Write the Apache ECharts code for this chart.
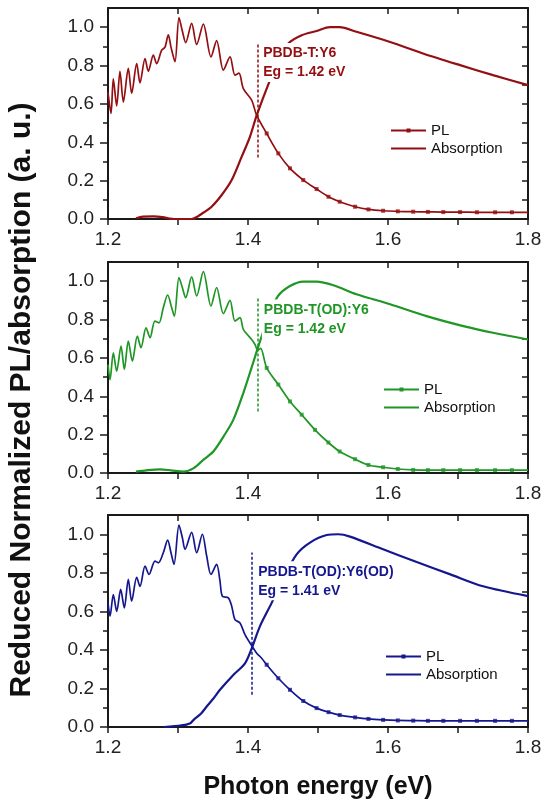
<!DOCTYPE html>
<html>
<head>
<meta charset="utf-8">
<script src="https://cdn.jsdelivr.net/npm/echarts@6/dist/echarts.min.js"></script>
<style>
html,body{margin:0;padding:0;background:#fff;}
#main{width:545px;height:800px;}
</style>
</head>
<body>
<div id="main"></div>
<script>
// ---- data: [photon energy (eV), reduced normalized value]
var pl1 = [[1.2,0.66],[1.2043,0.55],[1.2076,0.73],[1.2124,0.59],[1.2171,0.77],[1.2219,0.61],[1.229,0.785],[1.2338,0.655],
  [1.241,0.81],[1.2457,0.71],[1.2529,0.836],[1.2576,0.77],[1.2648,0.854],[1.2695,0.81],[1.2767,0.88],[1.2814,0.896],
  [1.2862,0.96],[1.29,0.896],[1.2957,0.82],[1.3014,1.05],[1.3062,0.98],[1.311,0.92],[1.3195,1.02],[1.3267,0.91],
  [1.3362,1.016],[1.3471,0.845],[1.3552,0.93],[1.3648,0.776],[1.3743,0.845],[1.3814,0.75],[1.3871,0.76],[1.3933,0.68],
  [1.4052,0.62],[1.4124,0.54],[1.4267,0.446],[1.4433,0.342],[1.46,0.264],[1.479,0.203],[1.498,0.156],[1.515,0.116],
  [1.531,0.09],[1.553,0.064],[1.572,0.05],[1.593,0.043],[1.614,0.04],[1.636,0.038],[1.657,0.037],[1.679,0.036],
  [1.703,0.036],[1.727,0.035],[1.753,0.035],[1.777,0.035],[1.8,0.035]];
var abs1 = [[1.24,0.004],[1.25,0.012],[1.265,0.014],[1.278,0.01],[1.288,0.002],[1.295,0],[1.3195,0],[1.335,0.03],
  [1.348,0.064],[1.3624,0.125],[1.3767,0.203],[1.391,0.325],[1.4029,0.43],[1.4124,0.54],[1.4314,0.724],[1.445,0.84],
  [1.4576,0.915],[1.4767,0.958],[1.498,0.98],[1.517,1.0],[1.531,1.0],[1.555,0.976],[1.603,0.923],[1.65,0.863],
  [1.703,0.802],[1.75,0.75],[1.8,0.698]];

var pl2 = [[1.2,0.565],[1.2029,0.487],[1.2076,0.627],[1.2124,0.531],[1.2186,0.662],[1.2233,0.54],[1.229,0.688],[1.2348,0.583],
  [1.2419,0.714],[1.2471,0.653],[1.2543,0.757],[1.26,0.705],[1.2671,0.792],[1.2729,0.783],[1.279,0.862],[1.2852,0.928],
  [1.291,0.862],[1.2948,0.818],[1.3014,1.019],[1.3062,0.967],[1.311,0.914],[1.3195,1.022],[1.3267,0.923],[1.3362,1.05],
  [1.3471,0.871],[1.3552,0.967],[1.3648,0.831],[1.3743,0.9],[1.3814,0.792],[1.3886,0.81],[1.3933,0.749],[1.4052,0.696],
  [1.41,0.67],[1.414,0.64],[1.418,0.65],[1.4267,0.548],[1.4433,0.461],[1.46,0.373],[1.4767,0.304],[1.4957,0.225],
  [1.5148,0.159],[1.531,0.112],[1.553,0.072],[1.572,0.042],[1.593,0.03],[1.614,0.021],[1.636,0.016],[1.657,0.015],
  [1.679,0.015],[1.703,0.015],[1.727,0.015],[1.753,0.015],[1.777,0.015],[1.8,0.015]];
var abs2 = [[1.24,0.007],[1.255,0.014],[1.274,0.019],[1.29,0.014],[1.3076,0.007],[1.3219,0.024],[1.336,0.068],[1.3505,0.112],
  [1.365,0.19],[1.379,0.277],[1.3933,0.417],[1.405,0.548],[1.417,0.685],[1.43,0.82],[1.443,0.923],[1.46,0.975],
  [1.479,0.998],[1.498,0.998],[1.522,0.979],[1.555,0.932],[1.603,0.88],[1.655,0.818],[1.7076,0.766],[1.75,0.731],[1.8,0.696]];

var pl3 = [[1.2,0.644],[1.2029,0.575],[1.2076,0.687],[1.2124,0.6],[1.2181,0.714],[1.2233,0.618],[1.229,0.766],[1.2338,0.653],
  [1.241,0.776],[1.2457,0.73],[1.2529,0.835],[1.2586,0.792],[1.2671,0.861],[1.2719,0.852],[1.279,0.904],[1.2852,0.97],
  [1.29,0.904],[1.2943,0.844],[1.3014,1.047],[1.3062,0.983],[1.31,0.922],[1.3195,1.01],[1.3267,0.904],[1.3348,1.0],
  [1.341,0.887],[1.3471,0.792],[1.3552,0.844],[1.36,0.757],[1.3633,0.679],[1.3719,0.67],[1.3767,0.627],[1.3814,0.557],
  [1.3886,0.54],[1.3957,0.479],[1.4052,0.422],[1.4124,0.383],[1.4195,0.357],[1.4267,0.323],[1.4433,0.253],[1.46,0.193],
  [1.479,0.135],[1.498,0.098],[1.515,0.077],[1.531,0.062],[1.553,0.05],[1.572,0.042],[1.593,0.037],[1.614,0.034],
  [1.636,0.033],[1.657,0.032],[1.679,0.032],[1.703,0.032],[1.727,0.032],[1.753,0.032],[1.777,0.032],[1.8,0.032]];
var abs3 = [[1.28,0],[1.305,0.008],[1.3177,0.02],[1.322,0.036],[1.333,0.07],[1.341,0.106],[1.35,0.145],[1.36,0.193],
  [1.379,0.27],[1.3957,0.33],[1.405,0.405],[1.417,0.522],[1.4338,0.644],[1.45,0.77],[1.4695,0.896],[1.4886,0.957],
  [1.5124,0.996],[1.529,1.0],[1.5457,0.988],[1.593,0.922],[1.641,0.856],[1.689,0.792],[1.736,0.73],[1.8,0.679]];

// band-gap marker: [energy, y from, y to] and the note anchor [energy, y]
var egLines = [[1.4135,0.32,0.917],[1.4135,0.32,0.916],[1.405,0.167,0.906]];
var noteAt = [[1.4195,0.915],[1.4205,0.902],[1.4125,0.857]];
var blends = ['PBDB-T:Y6','PBDB-T(OD):Y6','PBDB-T(OD):Y6(OD)'];
var egText = ['Eg = 1.42 eV','Eg = 1.42 eV','Eg = 1.41 eV'];

var xLabels = ['1.2','1.4','1.6','1.8'];
var yLabels = [0,0.2,0.4,0.6,0.8,1.0];

var myChart = echarts.init(document.getElementById('main'));
var font = 'Liberation Sans, Arial, sans-serif';
var axisColor = '#1a1a1a';

var panels = [
  {pl: pl1, abs: abs1, color: '#930f12', top: 8, height: 211, legendLeft: 385, legendTop: 118},
  {pl: pl2, abs: abs2, color: '#1f9626', top: 262, height: 211, legendLeft: 378, legendTop: 377},
  {pl: pl3, abs: abs3, color: '#15178f', top: 515, height: 212, legendLeft: 380, legendTop: 644}
];

var grids = [], xAxes = [], yAxes = [], series = [], legends = [];

panels.forEach(function(p, i){
  grids.push({left: 108, right: 17, top: p.top, height: p.height});

  // bottom axis with labels
  xAxes.push({
    type: 'value', gridIndex: i, min: 1.2, max: 1.8, interval: 0.1, position: 'bottom',
    axisLine: {show: true, onZero: false, lineStyle: {color: axisColor, width: 2}},
    axisTick: {show: true, inside: false, length: 6, lineStyle: {color: axisColor, width: 1.5}},
    axisLabel: {
      margin: 11, fontSize: 19, color: '#222', fontFamily: font,
      formatter: function(v){ var s = v.toFixed(1); return xLabels.indexOf(s) >= 0 ? s : ''; }
    },
    splitLine: {show: false}
  });
  // mirror axis on top
  xAxes.push({
    type: 'value', gridIndex: i, min: 1.2, max: 1.8, interval: 0.1, position: 'top',
    axisLine: {show: true, onZero: false, lineStyle: {color: axisColor, width: 2}},
    axisTick: {show: true, inside: true, length: 6, lineStyle: {color: axisColor, width: 1.5}},
    axisLabel: {show: false}, splitLine: {show: false}
  });

  yAxes.push({
    type: 'value', gridIndex: i, min: 0, max: 1.1, interval: 0.2, position: 'left',
    axisLine: {show: true, onZero: false, lineStyle: {color: axisColor, width: 2}},
    axisTick: {show: true, inside: false, length: 8, customValues: yLabels, lineStyle: {color: axisColor, width: 1.5}},
    minorTick: {show: true, splitNumber: 2, length: 5, lineStyle: {color: axisColor, width: 1.5}},
    axisLabel: {
      margin: 14, fontSize: 19, color: '#222', fontFamily: font, customValues: yLabels,
      formatter: function(v){ return v > 1.05 ? '' : v.toFixed(1); }
    },
    splitLine: {show: false}, minorSplitLine: {show: false}
  });
  yAxes.push({
    type: 'value', gridIndex: i, min: 0, max: 1.1, interval: 0.1, position: 'right',
    axisLine: {show: true, onZero: false, lineStyle: {color: axisColor, width: 2}},
    axisTick: {show: true, inside: true, length: 6, lineStyle: {color: axisColor, width: 1.5}},
    axisLabel: {show: false}, splitLine: {show: false}
  });

  var eg = egLines[i];
  series.push({
    name: 'PL#' + i, type: 'line', xAxisIndex: 2 * i, yAxisIndex: 2 * i,
    data: p.pl, smooth: 0.3, symbol: 'rect', symbolSize: 4, showSymbol: false,
    lineStyle: {color: p.color, width: 1.7}, itemStyle: {color: p.color}, z: 3
  });
  series.push({
    name: 'PLmarks#' + i, type: 'scatter', xAxisIndex: 2 * i, yAxisIndex: 2 * i,
    data: p.pl.filter(function(d){ return d[0] > 1.42 && d[0] < 1.79; }),
    symbol: 'rect', symbolSize: 4, itemStyle: {color: p.color}, silent: true, z: 3
  });
  series.push({
    name: 'Absorption#' + i, type: 'line', xAxisIndex: 2 * i, yAxisIndex: 2 * i,
    data: p.abs, smooth: 0.3, symbol: 'none',
    lineStyle: {color: p.color, width: 2.2}, itemStyle: {color: p.color}, z: 2,
    markLine: {
      silent: true, symbol: ['none', 'none'],
      lineStyle: {color: p.color, type: [3, 2], width: 1.5},
      label: {show: false},
      data: [[{coord: [eg[0], eg[1]]}, {coord: [eg[0], eg[2]]}]]
    },
    markPoint: {
      silent: true, symbol: 'rect', symbolSize: 1, itemStyle: {color: 'rgba(0,0,0,0)'},
      label: {
        show: true, position: [0, 0], color: p.color, fontSize: 14, fontWeight: 'bold',
        fontFamily: font, lineHeight: 19, align: 'left', verticalAlign: 'top',
        backgroundColor: '#fff', padding: [1, 2, 0, 2],
        formatter: blends[i] + '\n' + egText[i]
      },
      data: [{coord: noteAt[i]}]
    }
  });

  legends.push({
    orient: 'vertical', left: p.legendLeft, top: p.legendTop,
    itemWidth: 35, itemHeight: 5, itemGap: 3, selectedMode: false,
    data: [{name: 'PL#' + i}, {name: 'Absorption#' + i, itemStyle: {opacity: 0}}],
    formatter: function(n){ return n.split('#')[0]; },
    textStyle: {fontSize: 15, color: '#111', fontFamily: font}
  });
});

var option = {
  backgroundColor: '#fff',
  animation: false,
  grid: grids,
  xAxis: xAxes,
  yAxis: yAxes,
  legend: legends,
  series: series,
  graphic: [
    {type: 'text', x: 22, y: 400, rotation: Math.PI / 2,
      style: {text: 'Reduced Normalized PL/absorption (a. u.)', fontSize: 30, fontWeight: 'bold',
        fontFamily: font, fill: '#111', align: 'center', verticalAlign: 'middle'}},
    {type: 'text', x: 318, y: 787,
      style: {text: 'Photon energy (eV)', fontSize: 25, fontWeight: 'bold',
        fontFamily: font, fill: '#111', align: 'center', verticalAlign: 'middle'}}
  ]
};

myChart.setOption(option);

window.addEventListener('resize', function(){
  myChart.resize();
});
</script>
</body>
</html>
